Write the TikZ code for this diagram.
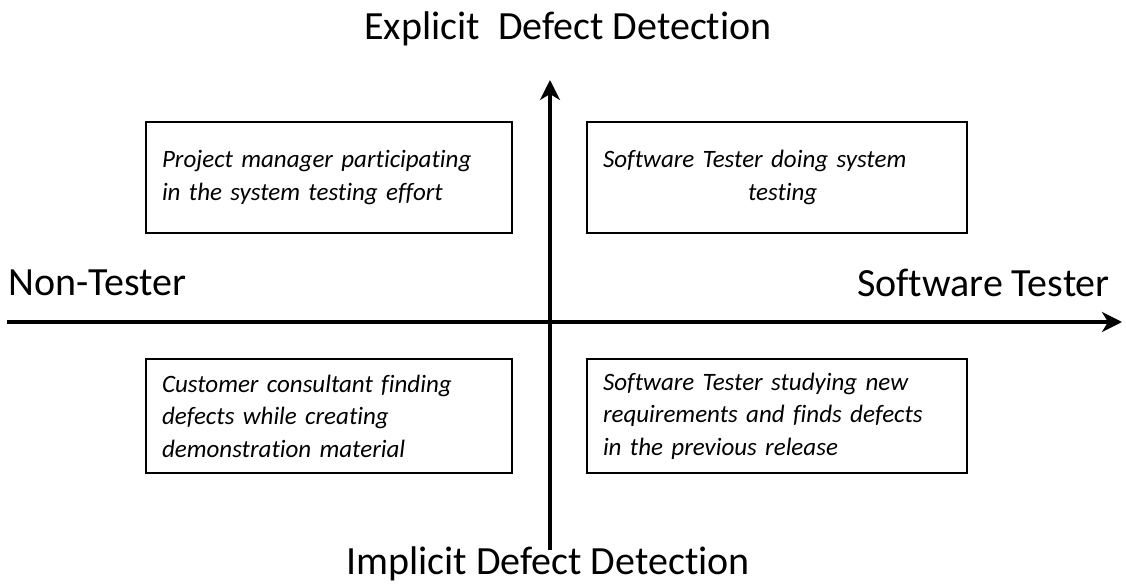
\documentclass[tikz,border=0pt]{standalone}
\usepackage{fontspec}
\setmainfont{Carlito}[Ligatures=NoCommon]
\usetikzlibrary{arrows.meta}
\begin{document}
\begin{tikzpicture}[x=1pt,y=-1pt,
  axis/.style={line width=3.5pt,-{Stealth[length=20pt,width=20pt,inset=6pt]}},
  quad/.style={draw,line width=2.6pt,inner sep=0pt,font=\fontsize{25}{32.5}\selectfont\itshape},
  axlabel/.style={inner sep=0pt,font=\fontsize{40}{46}\selectfont}]
\useasboundingbox (0,0) rectangle (1126,585);
% axes
\coordinate (vb) at (550,550);
\coordinate (vt) at (550,80);
\coordinate (hl) at (7,322);
\coordinate (hr) at (1122,322);
\draw[axis] (vb) -- (vt);
\draw[axis] (hl) -- (hr);
% boxes
\node[quad,minimum width=366pt,minimum height=111pt,text width=334pt,align=left] (tl) at (329,177.5)
  {Project manager participating\\in the system testing effort};
\node[quad,minimum width=380pt,minimum height=111pt,text width=348pt,align=left] (tr) at (777,177.5)
  {Software Tester doing system\\\hspace*{145pt}testing};
\node[quad,minimum width=366pt,minimum height=114pt,text width=334pt,align=left] (bl) at (329,416)
  {Customer consultant finding\\defects while creating\\demonstration material};
\node[quad,minimum width=380pt,minimum height=114pt,text width=348pt,align=left] (br) at (777,416)
  {Software Tester studying new\\requirements and finds defects\\in the previous release};
% labels
\node[axlabel] (top) at (568,29) {Explicit\ \ Defect Detection};
\node[axlabel] (bot) at (548,564) {Implicit Defect Detection};
\node[axlabel,anchor=west] (left) at (8,283) {Non-Tester};
\node[axlabel,anchor=east] (right) at (1110,283) {Software Tester};
\end{tikzpicture}
\end{document}
